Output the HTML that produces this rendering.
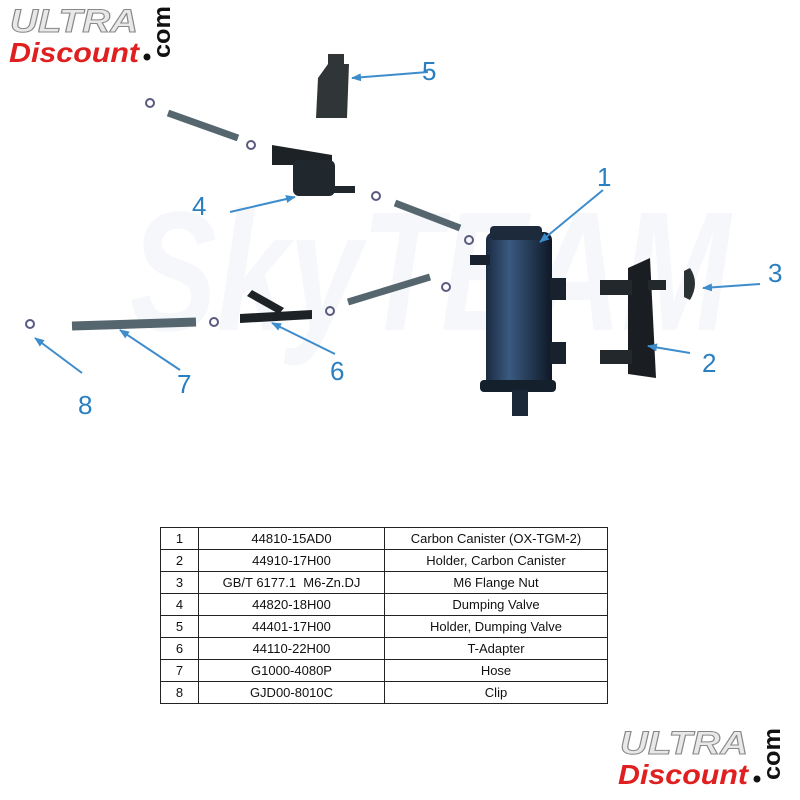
<!DOCTYPE html>
<html><head><meta charset="utf-8"><style>
body{margin:0;background:#fff;width:800px;height:800px;overflow:hidden;position:relative;font-family:"Liberation Sans",sans-serif}
table{position:absolute;left:160px;top:527px;border-collapse:collapse;font-size:13px;color:#111}
td{border:1px solid #222;height:21px;padding:0;text-align:center}
</style></head><body>
<svg width="800" height="800" style="position:absolute;left:0;top:0">
<defs><marker id="a" markerWidth="10" markerHeight="8" refX="9" refY="4" orient="auto" markerUnits="userSpaceOnUse"><path d="M0,0L10,4L0,8z" fill="#3d8ccc"/></marker>
<linearGradient id="cg" x1="0" x2="1"><stop offset="0" stop-color="#1a2a40"/><stop offset=".35" stop-color="#3a5a80"/><stop offset="1" stop-color="#0e1826"/></linearGradient></defs>
<text x="130" y="330" font-size="170" font-style="italic" font-weight="bold" fill="#f6f7fa" font-family="Liberation Sans" textLength="600" lengthAdjust="spacingAndGlyphs">SkyTEAM</text>
<!-- logo top -->
<text x="10" y="32" font-size="32" font-weight="bold" font-style="italic" fill="#e8e8e8" stroke="#888" stroke-width="1" textLength="128" lengthAdjust="spacingAndGlyphs">ULTRA</text>
<text x="9" y="62" font-size="28" font-weight="bold" font-style="italic" fill="#e02020" textLength="130" lengthAdjust="spacingAndGlyphs">Discount</text>
<circle cx="147" cy="57" r="3.5" fill="#111"/>
<text transform="translate(170,58) rotate(-90)" font-size="24" font-weight="bold" fill="#111" textLength="52" lengthAdjust="spacingAndGlyphs">com</text>
<!-- logo bottom -->
<text x="620" y="754" font-size="32" font-weight="bold" font-style="italic" fill="#e8e8e8" stroke="#888" stroke-width="1" textLength="128" lengthAdjust="spacingAndGlyphs">ULTRA</text>
<text x="618" y="784" font-size="28" font-weight="bold" font-style="italic" fill="#e02020" textLength="130" lengthAdjust="spacingAndGlyphs">Discount</text>
<circle cx="757" cy="779" r="3.5" fill="#111"/>
<text transform="translate(780,780) rotate(-90)" font-size="24" font-weight="bold" fill="#111" textLength="52" lengthAdjust="spacingAndGlyphs">com</text>
<!-- hoses -->
<g stroke="#55666e" stroke-linecap="butt">
<line x1="168" y1="113" x2="238" y2="138" stroke-width="7"/>
<line x1="395" y1="203" x2="460" y2="228" stroke-width="7"/>
<line x1="348" y1="302" x2="430" y2="277" stroke-width="7"/>
<line x1="72" y1="326" x2="196" y2="322" stroke-width="9"/>
</g>
<!-- clips -->
<g fill="none" stroke="#5a5a80" stroke-width="2">
<circle cx="150" cy="103" r="4"/><circle cx="251" cy="145" r="4"/><circle cx="376" cy="196" r="4"/>
<circle cx="469" cy="240" r="4"/><circle cx="446" cy="287" r="4"/><circle cx="330" cy="311" r="4"/>
<circle cx="214" cy="322" r="4"/><circle cx="30" cy="324" r="4"/>
</g>
<!-- holder 5 -->
<path d="M328,54h16v10h5l-2,54h-31l2,-40l10,-14z" fill="#303638"/>
<!-- valve 4 -->
<path d="M272,145l60,10v10h-60z" fill="#1c2226"/>
<rect x="293" y="160" width="42" height="36" rx="6" fill="#20282e"/>
<rect x="333" y="186" width="22" height="7" fill="#20282e"/>
<!-- T adapter -->
<path d="M240,314l72,-4v9l-72,4z" fill="#1c2226"/>
<path d="M252,290l32,18l-5,6l-32,-18z" fill="#1c2226"/>
<!-- canister -->
<rect x="486" y="232" width="66" height="160" rx="8" fill="url(#cg)"/>
<rect x="490" y="226" width="52" height="14" rx="4" fill="#1c2a3c"/>
<rect x="470" y="255" width="20" height="10" fill="#18222e"/>
<rect x="550" y="278" width="16" height="22" fill="#18222e"/>
<rect x="550" y="342" width="16" height="22" fill="#18222e"/>
<rect x="480" y="380" width="76" height="12" rx="4" fill="#14202c"/>
<rect x="512" y="390" width="16" height="26" fill="#1a2838"/>
<!-- holder 2 -->
<path d="M628,268l22,-10l6,120l-28,-4z" fill="#1a1e22"/>
<rect x="600" y="280" width="32" height="15" fill="#22282c"/>
<rect x="600" y="350" width="32" height="14" fill="#22282c"/>
<rect x="648" y="280" width="18" height="10" fill="#22282c"/>
<!-- nut 3 -->
<path d="M690,268q10,15 0,32l-6,-3v-26z" fill="#2a3234"/>
<!-- arrows -->
<g stroke="#3d8ccc" stroke-width="2" marker-end="url(#a)" fill="none">
<line x1="428" y1="72" x2="352" y2="78"/>
<line x1="230" y1="212" x2="295" y2="197"/>
<line x1="603" y1="190" x2="540" y2="242"/>
<line x1="760" y1="284" x2="703" y2="288"/>
<line x1="690" y1="353" x2="648" y2="346"/>
<line x1="335" y1="354" x2="272" y2="323"/>
<line x1="180" y1="370" x2="120" y2="330"/>
<line x1="82" y1="373" x2="35" y2="338"/>
</g>
<g font-size="26" fill="#2a7fc0">
<text x="422" y="80">5</text><text x="192" y="215">4</text><text x="597" y="186">1</text>
<text x="768" y="282">3</text><text x="702" y="372">2</text><text x="330" y="380">6</text>
<text x="177" y="393">7</text><text x="78" y="414">8</text>
</g>
</svg>
<table>
<tr><td style="width:37px">1</td><td style="width:185px">44810-15AD0</td><td style="width:222px">Carbon Canister (OX-TGM-2)</td></tr>
<tr><td>2</td><td>44910-17H00</td><td>Holder, Carbon Canister</td></tr>
<tr><td>3</td><td>GB/T 6177.1&nbsp; M6-Zn.DJ</td><td>M6 Flange Nut</td></tr>
<tr><td>4</td><td>44820-18H00</td><td>Dumping Valve</td></tr>
<tr><td>5</td><td>44401-17H00</td><td>Holder, Dumping Valve</td></tr>
<tr><td>6</td><td>44110-22H00</td><td>T-Adapter</td></tr>
<tr><td>7</td><td>G1000-4080P</td><td>Hose</td></tr>
<tr><td>8</td><td>GJD00-8010C</td><td>Clip</td></tr>
</table>
</body></html>
